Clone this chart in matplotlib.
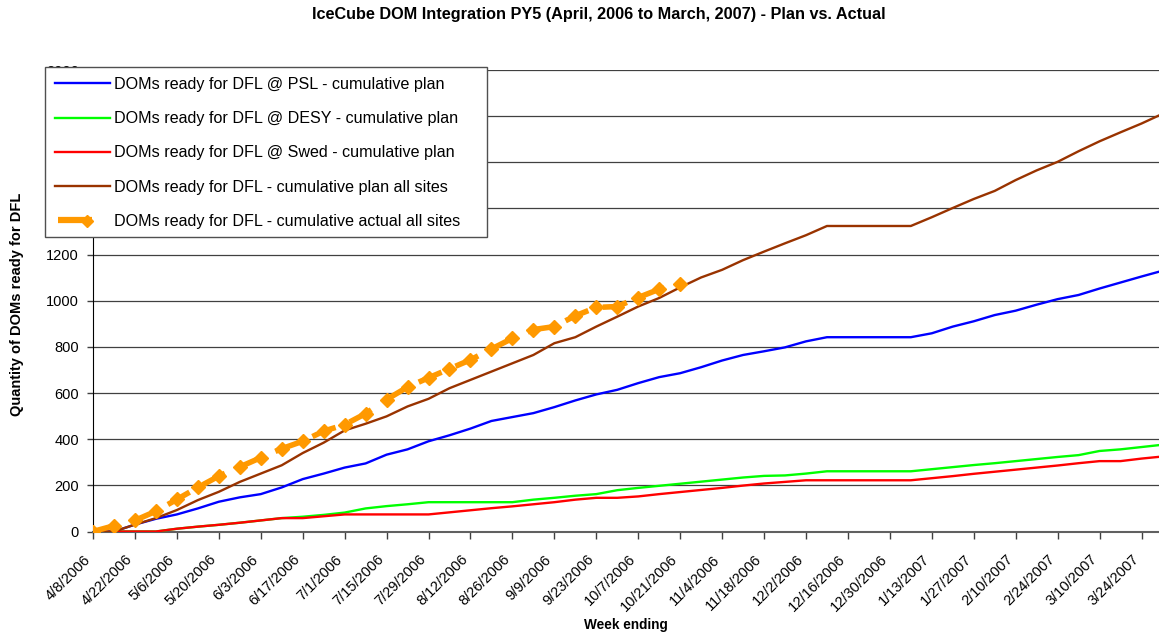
import matplotlib
matplotlib.use('Agg')
import matplotlib.pyplot as plt
import matplotlib.transforms as mtransforms
from matplotlib.legend_handler import HandlerBase
from matplotlib.lines import Line2D
from matplotlib.patches import Rectangle
import numpy as np
import pandas as pd

plt.rcParams['font.family'] = ['Liberation Sans', 'DejaVu Sans']

nan = np.nan
weeks = [f"{d.month}/{d.day}/{d.year}" for d in pd.date_range('2006-04-08', periods=52, freq='7D')]

psl_plan = [0, 0, 30, 55, 74, 100, 129, 148, 162, 191,
            227, 251, 277, 295, 333, 356, 391, 417, 446, 479,
            496, 513, 539, 568, 594, 614, 643, 669, 686, 712,
            741, 765, 781, 798, 824, 842, 842, 842, 842, 842,
            859, 888, 911, 938, 957, 983, 1007, 1025, 1053, 1079,
            1105, 1130]
desy_plan = [nan, 0, 0, 0, 12, 21, 29, 38, 48, 58,
             64, 72, 82, 100, 110, 118, 127, 127, 127, 127,
             127, 138, 146, 155, 162, 179, 189, 198, 207, 216,
             225, 234, 241, 243, 251, 261, 261, 261, 261, 261,
             270, 279, 288, 296, 305, 314, 323, 331, 349, 356,
             366, 376]
swed_plan = [nan, 0, 0, 0, 12, 21, 29, 38, 48, 58,
             58, 66, 74, 74, 74, 74, 74, 83, 92, 101,
             109, 118, 127, 138, 146, 146, 152, 162, 171, 180,
             189, 199, 208, 215, 222, 222, 222, 222, 222, 222,
             231, 240, 250, 259, 268, 277, 286, 296, 305, 305,
             316, 325]
all_plan = [0, 0, 30, 58, 93, 136, 172, 215, 251, 287,
            340, 385, 438, 467, 499, 542, 575, 621, 657, 693,
            729, 765, 816, 842, 888, 931, 975, 1012, 1058, 1101,
            1134, 1176, 1213, 1249, 1284, 1324, 1324, 1324, 1324, 1324,
            1362, 1402, 1441, 1476, 1523, 1565, 1602, 1648, 1691, 1730,
            1768, 1810]
all_actual = [0, 25, 48, 88, 139, 191, 240, 280, 320, 359,
              391, 435, 463, 511, 572, 626, 666, 705, 744, 791,
              837, 875, 888, 935, 971, 975, 1014, 1050, 1072] + [nan] * 23

labels = ["DOMs ready for DFL @ PSL - cumulative plan",
          "DOMs ready for DFL @ DESY - cumulative plan",
          "DOMs ready for DFL @ Swed - cumulative plan",
          "DOMs ready for DFL - cumulative plan all sites",
          "DOMs ready for DFL - cumulative actual all sites"]

ORANGE = '#FF9900'

W, H = 1159, 633
fig = plt.figure(figsize=(W / 100, H / 100), dpi=100)
left, right, top, bottom = 93, 1159, 70, 531.5
ax = fig.add_axes([left / W, 1 - bottom / H, (right - left) / W, (bottom - top) / H])

x = np.arange(len(weeks))
ax.plot(x, psl_plan, color='#0000FF', lw=1.7, label=labels[0], zorder=3)
ax.plot(x, desy_plan, color='#00FF00', lw=1.7, label=labels[1], zorder=3)
ax.plot(x, swed_plan, color='#FF0000', lw=1.7, label=labels[2], zorder=3)
ax.plot(x, all_plan, color='#993300', lw=1.7, label=labels[3], zorder=3)
ax.plot(x, all_actual, color=ORANGE, lw=4, dashes=(4.5, 2.7), marker='D', ms=7,
        mec=ORANGE, mfc=ORANGE, label=labels[4], zorder=4)

px_per_week = 20.97
ax.set_xlim(0, (right - left) / px_per_week)
ax.set_ylim(0, 2000)
ax.set_yticks(np.arange(0, 2001, 200))
ax.set_xticks(x[::2])
ax.set_xticklabels(weeks[::2], rotation=45, ha='right', va='top', fontsize=10.5)
offset = mtransforms.ScaledTranslation(-8 / 100, 0, fig.dpi_scale_trans)
for lab in ax.get_xticklabels():
    lab.set_transform(lab.get_transform() + offset)
ax.tick_params(axis='x', direction='out', length=5, width=1, pad=10, color='#404040')
ax.tick_params(axis='y', direction='out', length=4, width=1, labelsize=10.5, pad=6, color='#404040')
ax.grid(axis='y', color='#404040', lw=0.9, zorder=1)
ax.set_axisbelow(True)
for s in ['top', 'right']:
    ax.spines[s].set_visible(False)
ax.spines['left'].set_color('black')
ax.spines['bottom'].set_color('#606060')
ax.spines['bottom'].set_linewidth(1.5)

fig.text(599 / W, 1 - 15 / H, "IceCube DOM Integration PY5 (April, 2006 to March, 2007) - Plan vs. Actual",
         ha='center', va='center', fontsize=11.7, fontweight='bold')
fig.text(17 / W, 1 - 304 / H, "Quantity of DOMs ready for DFL", rotation=90,
         ha='center', va='center', fontsize=10.5, fontweight='bold')
fig.text(626 / W, 1 - 625 / H, "Week ending", ha='center', va='center',
         fontsize=9.8, fontweight='bold')


class ActualHandler(HandlerBase):
    def create_artists(self, legend, orig_handle, xdescent, ydescent, width, height, fontsize, trans):
        y = height / 2 - ydescent
        ln = Line2D([0.06 * width - xdescent, 0.68 * width - xdescent], [y, y],
                    color=ORANGE, lw=4.5, solid_capstyle='butt', transform=trans)
        mk = Line2D([0.58 * width - xdescent], [y - 1], marker='D', ms=6.5, color=ORANGE,
                    lw=0, transform=trans)
        return [ln, mk]


# legend box
fig.add_artist(Rectangle((45 / W, 1 - 237 / H), (487 - 45) / W, (237 - 67) / H,
                         transform=fig.transFigure, facecolor='white', edgecolor='#505050',
                         lw=1.0, zorder=4.9))

h, l = ax.get_legend_handles_labels()
leg = fig.legend(h, l, loc='upper left', bbox_to_anchor=(55 / W, 1 - 77 / H),
                 fontsize=11.6, frameon=False, handlelength=3.4, handletextpad=0.25,
                 labelspacing=1.19, borderpad=0, numpoints=1, borderaxespad=0,
                 handler_map={h[4]: ActualHandler()})
leg.set_zorder(5)

fig.savefig('out.png', dpi=100)
